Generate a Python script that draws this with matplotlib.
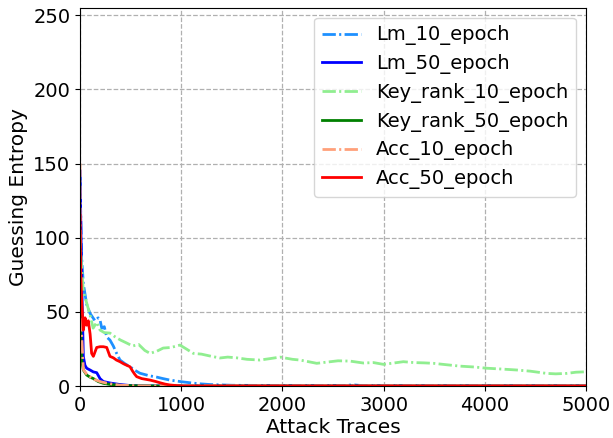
import numpy as np
import matplotlib.pyplot as plt

# values (trace count, guessing entropy)
lm10_x = [0, 16, 33, 66, 99, 148, 180, 198, 215, 240, 264, 296, 329, 362, 395, 445, 494, 545, 593, 680, 758, 820, 889, 990, 1087, 1180, 1285, 1500, 2000, 2600, 2700, 2800, 3500, 5000]
lm10_y = [141, 87, 69, 55, 49, 44, 46, 44.5, 39, 40, 33, 31, 27, 22, 17.5, 15, 13, 10.5, 8.6, 7, 6, 5, 4, 3, 2.2, 1.5, 1, 0.5, 0.3, 0.3, 0.8, 0.2, 0.1, 0.1]

lm50_x = [0, 8, 16, 33, 49, 66, 99, 132, 165, 198, 231, 300, 395, 500, 700, 1000, 5000]
lm50_y = [145, 110, 73, 20, 14, 12, 10.8, 9.5, 9, 5, 3, 2, 1, 0.3, 0.1, 0, 0]

kr10_x = [0, 16, 33, 66, 99, 130, 165, 198, 240, 296, 350, 400, 461, 520, 580, 640, 692, 760, 822, 900, 988, 1050, 1120, 1200, 1300, 1383, 1460, 1548, 1650, 1779, 1880, 1976, 2100, 2174, 2250, 2339, 2450, 2550, 2668, 2800, 2900, 2998, 3100, 3195, 3300, 3400, 3492, 3600, 3755, 3900, 4019, 4150, 4315, 4450, 4611, 4700, 4808, 4900, 5000]
kr10_y = [103, 80, 64, 56, 48, 39, 43, 37.7, 36, 35.7, 33, 31, 29, 27, 28, 24, 22, 23.5, 25.6, 26, 27.6, 25, 22, 21.5, 20, 18.9, 19.5, 19, 18, 17.5, 18.5, 19.5, 18, 17.5, 16.5, 15.3, 16.2, 17, 16.8, 15.5, 15.8, 14.6, 15.5, 16.4, 15.8, 15.6, 15.3, 14.5, 13.4, 12.8, 12, 11.5, 10.8, 10, 8.5, 8.2, 8.5, 9.3, 9.6]

kr50_x = [0, 8, 16, 33, 66, 99, 132, 180, 231, 300, 395, 500, 800, 5000]
kr50_y = [60, 35, 17.5, 10.8, 7.4, 6, 5, 3, 1.8, 1, 0.5, 0.2, 0, 0]

acc10_x = [0, 5, 16, 33, 66, 99, 140, 198, 260, 329, 400, 600, 5000]
acc10_y = [150, 80, 35, 11, 8, 6.3, 4.5, 3, 2, 1.2, 0.5, 0.1, 0]

acc50_x = [0, 8, 16, 33, 50, 66, 82, 100, 115, 132, 165, 198, 231, 264, 296, 330, 360, 395, 430, 461, 494, 520, 540, 560, 610, 692, 750, 790, 840, 889, 950, 1020, 5000]
acc50_y = [115, 75, 58, 37.7, 46, 41, 44, 35, 22, 20, 26, 26.5, 26.5, 26, 20, 19, 17.5, 16.4, 15, 14, 13, 10, 8, 6.3, 5, 4, 3, 2.2, 1.3, 0.7, 0.3, 0, 0]

series = [
    ("Lm_10_epoch", lm10_x, lm10_y, "dodgerblue", "-."),
    ("Lm_50_epoch", lm50_x, lm50_y, "blue", "-"),
    ("Key_rank_10_epoch", kr10_x, kr10_y, "lightgreen", "-."),
    ("Key_rank_50_epoch", kr50_x, kr50_y, "green", "-"),
    ("Acc_10_epoch", acc10_x, acc10_y, "lightsalmon", "-."),
    ("Acc_50_epoch", acc50_x, acc50_y, "red", "-"),
]

fig = plt.figure(figsize=(6.13, 4.38), dpi=100)
ax = fig.add_axes([0.1305, 0.1187, 0.8255, 0.8633])

for name, xs, ys, c, ls in series:
    if ls == "-.":
        # shorter dash-dot pattern like the original
        ax.plot(xs, ys, color=c, linestyle=(0, (4.8, 1.2, 0.75, 1.2)), linewidth=2, label=name)
    else:
        ax.plot(xs, ys, color=c, linestyle=ls, linewidth=2, label=name)

ax.set_xlim(0, 5000)
ax.set_ylim(0, 255)
ax.set_xticks([0, 1000, 2000, 3000, 4000, 5000])
ax.set_yticks([0, 50, 100, 150, 200, 250])
ax.tick_params(labelsize=14)
ax.grid(True, linestyle="--", color="#b0b0b0", linewidth=0.9)
ax.set_xlabel("Attack Traces", fontsize=14.5, labelpad=2)
ax.set_ylabel("Guessing Entropy", fontsize=14.5, labelpad=4)
ax.legend(loc="upper right", fontsize=14, handlelength=2.0, labelspacing=0.45)

fig.savefig("out.png", dpi=100)
